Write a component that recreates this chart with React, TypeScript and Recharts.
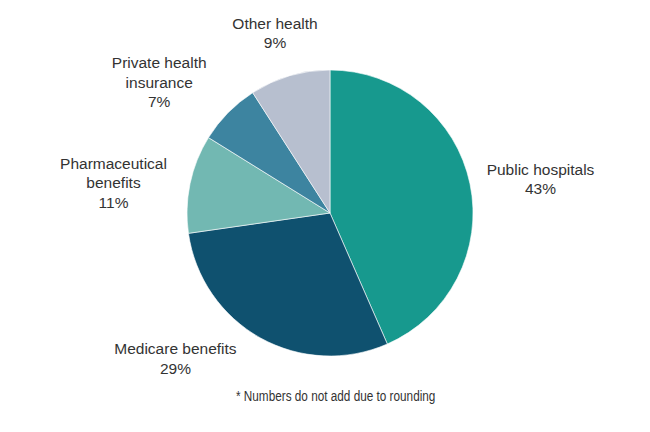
import { PieChart, Pie, Cell } from "recharts";

// Share of total health spending (per cent)
const categories = [
  "Public hospitals",
  "Medicare benefits",
  "Pharmaceutical benefits",
  "Private health insurance",
  "Other health",
];
const shares = [43, 29, 11, 7, 9];
const labelLines = [
  ["Public hospitals"],
  ["Medicare benefits"],
  ["Pharmaceutical", "benefits"],
  ["Private health", "insurance"],
  ["Other health"],
];
const footnote = "* Numbers do not add due to rounding";

const COLORS = ["#17998e", "#0f516f", "#72b8b2", "#3d84a0", "#b7bfcf"];

// small hand nudges so labels sit where the original put them
const NUDGE: Record<string, [number, number]> = {
  "Public hospitals": [2, 9],
  "Medicare benefits": [-51, -41],
  "Pharmaceutical benefits": [-8, 13],
  "Private health insurance": [-19, 18],
  "Other health": [5, 24],
};

const RAD = Math.PI / 180;
const LINE_H = 19.5;

const data = categories.map((name, i) => ({
  name,
  value: shares[i],
  lines: labelLines[i],
}));

function renderLabel(props: any) {
  const { cx, cy, midAngle, outerRadius, payload, value } = props;
  const r = outerRadius + 70;
  const [dx, dy] = NUDGE[payload.name] ?? [0, 0];
  const x = cx + r * Math.cos(-midAngle * RAD) + dx;
  const y = cy + r * Math.sin(-midAngle * RAD) + dy;
  const rows = [...payload.lines, `${value}%`];
  const top = y - ((rows.length - 1) * LINE_H) / 2;
  return (
    <text
      x={x}
      y={top}
      textAnchor="middle"
      dominantBaseline="central"
      fill="#333"
      fontSize={15.5}
      fontFamily="'Liberation Sans', Arial, sans-serif"
    >
      {rows.map((row: string, i: number) => (
        <tspan key={i} x={x} y={top + i * LINE_H}>
          {row}
        </tspan>
      ))}
    </text>
  );
}

export default function App() {
  return (
    <div style={{ position: "relative", width: 650, height: 432, background: "#fff" }}>
      <style>{"body{margin:0}"}</style>
      <PieChart width={650} height={432} margin={{ top: 0, right: 0, bottom: 0, left: 0 }}>
        <Pie
          data={data}
          dataKey="value"
          nameKey="name"
          cx={330}
          cy={213}
          outerRadius={143}
          startAngle={90}
          endAngle={-270}
          stroke="#ffffff"
          strokeWidth={0.6}
          label={renderLabel}
          labelLine={false}
          isAnimationActive={false}
        >
          {data.map((d, i) => (
            <Cell key={d.name} fill={COLORS[i]} />
          ))}
        </Pie>
      </PieChart>
      <div
        style={{
          position: "absolute",
          top: 388,
          left: 0,
          width: 672,
          textAlign: "center",
          fontFamily: "'Liberation Sans', Arial, sans-serif",
          fontSize: 14,
          color: "#333",
        }}
      >
        <span style={{ display: "inline-block", transform: "scaleX(0.84)" }}>{footnote}</span>
      </div>
    </div>
  );
}
